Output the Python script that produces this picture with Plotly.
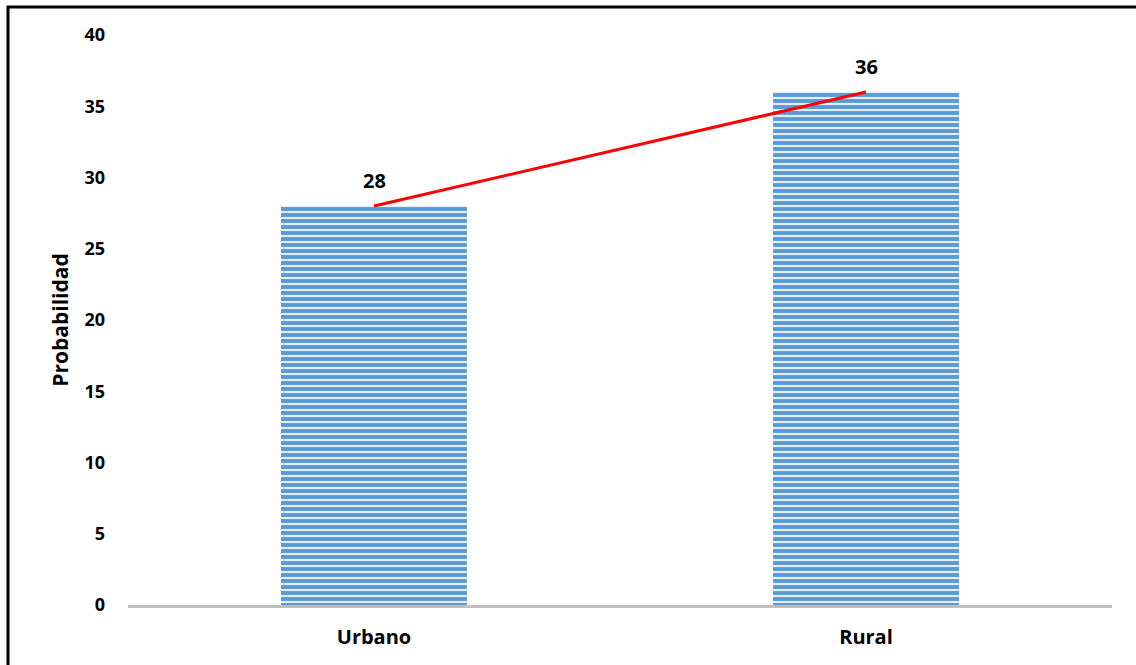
import plotly.graph_objects as go

categories = ["Urbano", "Rural"]
values = [28, 36]
y_ticks = [0, 5, 10, 15, 20, 25, 30, 35, 40]

W, H = 1136, 665
L, R, T, B = 128, 24, 35, 60
pw, ph = W - L - R, H - T - B

font_family = "Open Sans, Lato, Arial, sans-serif"

fig = go.Figure()
fig.add_trace(go.Bar(
    x=categories, y=values, width=0.378,
    marker=dict(
        color="#5B9BD5",
        line=dict(width=0),
        pattern=dict(shape="-", fgcolor="#E3EEF8", bgcolor="#5B9BD5",
                     size=6, solidity=0.35, fillmode="replace"),
    ),
    showlegend=False, hoverinfo="skip",
))
fig.add_trace(go.Scatter(
    x=categories, y=values, mode="lines",
    line=dict(color="#FF0000", width=3),
    showlegend=False, hoverinfo="skip",
))

for c, v in zip(categories, values):
    fig.add_annotation(x=c, y=v, text=str(v), showarrow=False,
                       xanchor="center", yanchor="bottom", yshift=10,
                       font=dict(family=font_family, size=20, color="black", weight="bold"))

def px_to_paper_x(px):
    return (px - L) / pw

def px_to_paper_y(py):
    return (H - B - py) / ph

fig.add_shape(type="rect", xref="paper", yref="paper",
              x0=px_to_paper_x(8), x1=px_to_paper_x(1145),
              y0=px_to_paper_y(675), y1=px_to_paper_y(7),
              line=dict(color="black", width=3), fillcolor="rgba(0,0,0,0)",
              layer="above")

fig.update_layout(
    width=W, height=H,
    margin=dict(l=L, r=R, t=T, b=B),
    paper_bgcolor="white", plot_bgcolor="white",
    font=dict(family=font_family, color="black"),
    xaxis=dict(
        showline=True, linecolor="#BFBFBF", linewidth=2.5,
        showgrid=False, ticks="",
        tickfont=dict(family=font_family, size=20, color="black", weight="bold"),
        ticklabelstandoff=12,
    ),
    yaxis=dict(
        range=[0, 40], tickvals=y_ticks, showgrid=False, zeroline=False,
        showline=False, ticks="",
        tickfont=dict(family=font_family, size=18, color="black", weight="bold"),
        ticklabelstandoff=22,
        title=dict(text="Probabilidad", standoff=10,
                   font=dict(family=font_family, size=21, color="black", weight="bold")),
    ),
)

fig.write_html("out.html", config={"displayModeBar": False},
               post_script="document.body.style.margin='0';")
